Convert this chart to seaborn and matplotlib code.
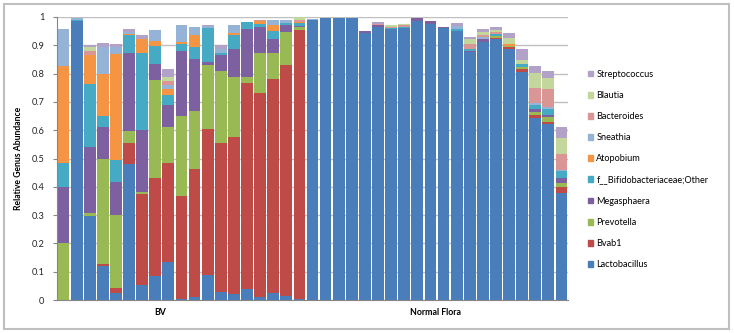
import matplotlib
matplotlib.use("Agg")
import matplotlib.pyplot as plt
from matplotlib.patches import Patch, Rectangle
import numpy as np
import pandas as pd
import seaborn as sns

# 39 samples: first 19 BV, then 20 normal flora
samples = [f"S{i:02d}" for i in range(1, 40)]
groups = ["BV", "Normal Flora"]

lactobacillus = [0, 0.985, 0.297, 0.12, 0.024, 0.481, 0.052, 0.085, 0.134, 0.005,
                 0.01, 0.087, 0.028, 0.021, 0.04, 0.01, 0.026, 0.014, 0.005,
                 0.988, 0.998, 0.998, 0.998, 0.944, 0.966, 0.958, 0.96, 0.985, 0.977,
                 0.961, 0.949, 0.876, 0.912, 0.921, 0.886, 0.806, 0.643, 0.622, 0.379]
bvab1 = [0, 0, 0, 0.007, 0.018, 0.073, 0.323, 0.346, 0.349, 0.362,
         0.454, 0.516, 0.528, 0.554, 0.726, 0.72, 0.756, 0.818, 0.95,
         0, 0, 0, 0, 0, 0, 0, 0, 0, 0,
         0, 0, 0, 0, 0.005, 0.007, 0.009, 0.009, 0.007, 0.019]
prevotella = [0.2, 0, 0.012, 0.372, 0.26, 0.042, 0.007, 0.346, 0.127, 0.283,
              0.205, 0.229, 0.254, 0.212, 0.021, 0.144, 0.092, 0.115, 0.008,
              0, 0, 0, 0, 0, 0, 0, 0, 0, 0,
              0, 0, 0, 0, 0.007, 0.004, 0.009, 0.012, 0.016, 0.017]
megasphaera = [0.2, 0, 0.23, 0.111, 0.115, 0.278, 0.219, 0.057, 0.078, 0.229,
               0.181, 0.009, 0.055, 0.101, 0.172, 0.089, 0.047, 0.024, 0.005,
               0, 0, 0, 0, 0.006, 0.004, 0, 0, 0.01, 0.008,
               0.003, 0, 0.005, 0.009, 0, 0, 0, 0.012, 0.01, 0.016]
bifido_other = [0.085, 0.005, 0.224, 0.04, 0.078, 0.061, 0.273, 0.064, 0.035, 0.026,
                0.043, 0.12, 0.007, 0.047, 0.023, 0.012, 0.028, 0.009, 0.01,
                0, 0, 0, 0, 0, 0, 0.004, 0.005, 0, 0,
                0, 0.007, 0.007, 0, 0.007, 0, 0.01, 0.014, 0.021, 0.024]
atopobium = [0.342, 0, 0.102, 0.149, 0.374, 0.005, 0.047, 0.016, 0.021, 0.006,
             0.045, 0, 0, 0.01, 0, 0.01, 0.022, 0, 0.005,
             0, 0, 0, 0, 0, 0.003, 0, 0, 0, 0,
             0, 0, 0, 0, 0, 0.008, 0, 0, 0, 0]
sneathia = [0.13, 0.005, 0, 0.094, 0.026, 0.008, 0, 0.04, 0.015, 0.062,
            0.025, 0.006, 0.015, 0.026, 0, 0, 0.017, 0.008, 0,
            0.005, 0, 0, 0, 0, 0, 0, 0, 0, 0,
            0, 0.012, 0, 0.009, 0, 0, 0, 0.005, 0.005, 0.005]
bacteroides = [0, 0, 0.014, 0, 0, 0, 0, 0, 0.016, 0,
               0, 0, 0, 0, 0, 0.004, 0, 0, 0.008,
               0, 0, 0, 0, 0, 0.004, 0.004, 0.005, 0, 0,
               0, 0, 0.017, 0.007, 0.007, 0, 0, 0.054, 0.066, 0.056]
blautia = [0, 0, 0.016, 0, 0, 0, 0, 0, 0.014, 0,
           0, 0, 0, 0, 0, 0, 0, 0, 0.008,
           0, 0, 0, 0, 0, 0, 0.006, 0.006, 0, 0,
           0, 0, 0.019, 0.01, 0.008, 0.02, 0.014, 0.052, 0.037, 0.056]
streptococcus = [0, 0, 0.007, 0.014, 0.01, 0.008, 0.017, 0, 0.026, 0,
                 0, 0.006, 0.015, 0, 0, 0, 0, 0, 0,
                 0, 0, 0, 0, 0, 0.005, 0, 0, 0.003, 0,
                 0, 0.012, 0.006, 0.01, 0.008, 0.017, 0.038, 0.026, 0.024, 0.038]

genera = ["Lactobacillus", "Bvab1", "Prevotella", "Megasphaera",
          "f__Bifidobacteriaceae;Other", "Atopobium", "Sneathia",
          "Bacteroides", "Blautia", "Streptococcus"]
palette = ["#4A7EBB", "#BE4B48", "#98B954", "#7D60A0", "#46AAC5",
           "#F59443", "#95B3D7", "#D99694", "#C3D69B", "#B3A2C7"]

df = pd.DataFrame(dict(zip(genera, [lactobacillus, bvab1, prevotella, megasphaera,
                                    bifido_other, atopobium, sneathia, bacteroides,
                                    blautia, streptococcus])), index=samples)
cum = df[genera].cumsum(axis=1)
cum["sample"] = samples

plt.rcParams["font.family"] = ["Lato", "DejaVu Sans"]
fig = plt.figure(figsize=(7.34, 3.33), dpi=100)
ax = fig.add_axes([57 / 734, 1 - 300 / 333, 511 / 734, 283 / 333])

# overlay cumulative totals, tallest first
for g, c in reversed(list(zip(genera, palette))):
    sns.barplot(data=cum, x="sample", y=g, color=c, saturation=1, width=0.9,
                errorbar=None, linewidth=0, ax=ax)

ax.set_xlim(-0.5, len(samples) - 0.5)
ax.set_ylim(0, 1)
ax.set_axisbelow(True)
ax.yaxis.grid(True, color="#BFBFBF", lw=1)
ax.set_xticks([])
ax.set_xlabel("")
yt = np.round(np.arange(0, 1.01, 0.1), 1)
ax.set_yticks(yt)
ax.set_yticklabels(["0"] + [f"{v:g}" for v in yt[1:-1]] + ["1"], fontsize=6.7, color="#262626")
ax.tick_params(axis="y", length=3, color="#868686", pad=6)
ax.set_ylabel("Relative Genus Abundance", fontsize=6.2, fontweight="bold", labelpad=6)
for s in ["top", "right"]:
    ax.spines[s].set_visible(False)
for s in ["left", "bottom"]:
    ax.spines[s].set_color("#868686")

# group labels under the axis
ax.text((160 - 57) / 511, -0.03, groups[0], transform=ax.transAxes,
        ha="center", va="top", fontsize=6.3, fontweight="bold")
ax.text((435 - 57) / 511, -0.03, groups[1], transform=ax.transAxes,
        ha="center", va="top", fontsize=6.3, fontweight="bold")

handles = [Patch(color=c, label=g) for g, c in reversed(list(zip(genera, palette)))]
fig.legend(handles=handles, loc="upper left", bbox_to_anchor=(584 / 734, 1 - 66 / 333),
           frameon=False, fontsize=6.6, handlelength=0.6, handleheight=0.6,
           handletextpad=0.35, labelspacing=1.33, borderaxespad=0)

fig.add_artist(Rectangle((4 / 734, 4 / 333), 725 / 734, 325 / 333, transform=fig.transFigure,
                         fill=False, ec="#BFBFBF", lw=1.5))

fig.savefig("out.png", dpi=100)
